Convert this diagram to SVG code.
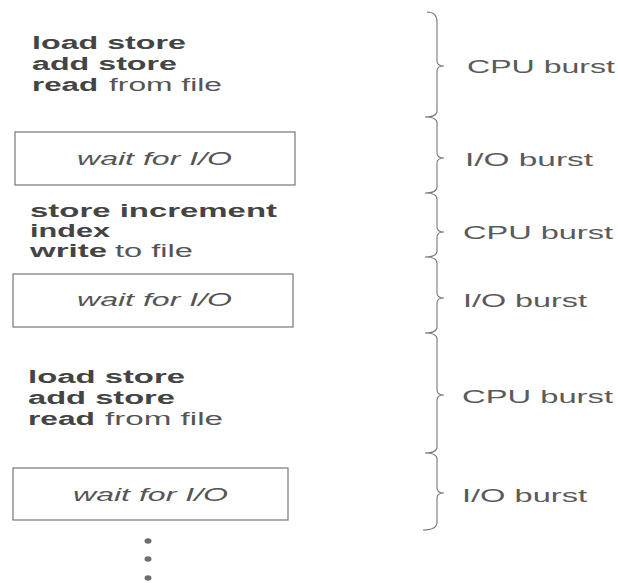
<svg xmlns="http://www.w3.org/2000/svg" width="618" height="583" viewBox="0 0 618 583">
<style>
text{font-family:"Liberation Sans",Arial,sans-serif;fill:#505050}
.b{font-weight:bold;font-size:18px;fill:#444}
.r{font-size:18px;fill:#555}
.w{font-style:italic;font-size:19px;fill:#555}
.l{font-size:19px;fill:#5a5a5a}
.box{fill:#fff;stroke:#777;stroke-width:1.2}
.br{fill:none;stroke:#777;stroke-width:1.1}
.dot{fill:#6e6e6e}
</style>
<rect width="618" height="583" fill="#fff"/>
<g id="cpu1">
<text class="b" x="32" y="49" textLength="154" lengthAdjust="spacingAndGlyphs">load store</text>
<text class="b" x="32" y="70" textLength="145" lengthAdjust="spacingAndGlyphs">add store</text>
<text class="b" x="32" y="91" textLength="66" lengthAdjust="spacingAndGlyphs">read</text>
<text class="r" x="109" y="91" textLength="113" lengthAdjust="spacingAndGlyphs">from file</text>
</g>
<g id="io1">
<rect class="box" x="15" y="132" width="280" height="53"/>
<text class="w" x="77" y="165" textLength="155" lengthAdjust="spacingAndGlyphs">wait for I/O</text>
</g>
<g id="cpu2">
<text class="b" x="30" y="217" textLength="247" lengthAdjust="spacingAndGlyphs">store increment</text>
<text class="b" x="30" y="237" textLength="80" lengthAdjust="spacingAndGlyphs">index</text>
<text class="b" x="30" y="257" textLength="77" lengthAdjust="spacingAndGlyphs">write</text>
<text class="r" x="115" y="257" textLength="78" lengthAdjust="spacingAndGlyphs">to file</text>
</g>
<g id="io2">
<rect class="box" x="13" y="274" width="280" height="53"/>
<text class="w" x="77" y="306" textLength="155" lengthAdjust="spacingAndGlyphs">wait for I/O</text>
</g>
<g id="cpu3">
<text class="b" x="28" y="383" textLength="157" lengthAdjust="spacingAndGlyphs">load store</text>
<text class="b" x="28" y="404" textLength="147" lengthAdjust="spacingAndGlyphs">add store</text>
<text class="b" x="28" y="425" textLength="67" lengthAdjust="spacingAndGlyphs">read</text>
<text class="r" x="105" y="425" textLength="118" lengthAdjust="spacingAndGlyphs">from file</text>
</g>
<g id="io3">
<rect class="box" x="13" y="468" width="275" height="52"/>
<text class="w" x="73" y="501" textLength="155" lengthAdjust="spacingAndGlyphs">wait for I/O</text>
</g>
<g id="more">
<ellipse class="dot" cx="148" cy="541" rx="3.5" ry="2.8"/>
<ellipse class="dot" cx="148" cy="559" rx="3.5" ry="2.8"/>
<ellipse class="dot" cx="148" cy="578" rx="3.5" ry="2.8"/>
</g>
<g id="connectors">
<path class="br" d="M427,12 Q437,12 437,22 L437,61 Q437,66 444,66 Q437,66 437,71 L437,111 Q437,117 425,117 Q437,117 437,123 L437,153 Q437,158 444,158 Q437,158 437,163 L437,187 Q437,193 425,193 Q437,193 437,199 L437,227 Q437,232 444,232 Q437,232 437,237 L437,251 Q437,257 425,257 Q437,257 437,263 L437,293 Q437,298 444,298 Q437,298 437,303 L437,327 Q437,333 425,333 Q437,333 437,339 L437,390 Q437,395 444,395 Q437,395 437,400 L437,447 Q437,453 425,453 Q437,453 437,459 L437,488 Q437,493 444,493 Q437,493 437,498 L437,522 Q437,530 423,530"/>
</g>
<g id="labels">
<text class="l" x="467" y="73" textLength="148" lengthAdjust="spacingAndGlyphs">CPU burst</text>
<text class="l" x="465" y="166" textLength="128" lengthAdjust="spacingAndGlyphs">I/O burst</text>
<text class="l" x="463" y="239" textLength="150" lengthAdjust="spacingAndGlyphs">CPU burst</text>
<text class="l" x="463" y="307" textLength="124" lengthAdjust="spacingAndGlyphs">I/O burst</text>
<text class="l" x="462" y="403" textLength="151" lengthAdjust="spacingAndGlyphs">CPU burst</text>
<text class="l" x="462" y="502" textLength="125" lengthAdjust="spacingAndGlyphs">I/O burst</text>
</g>
</svg>
